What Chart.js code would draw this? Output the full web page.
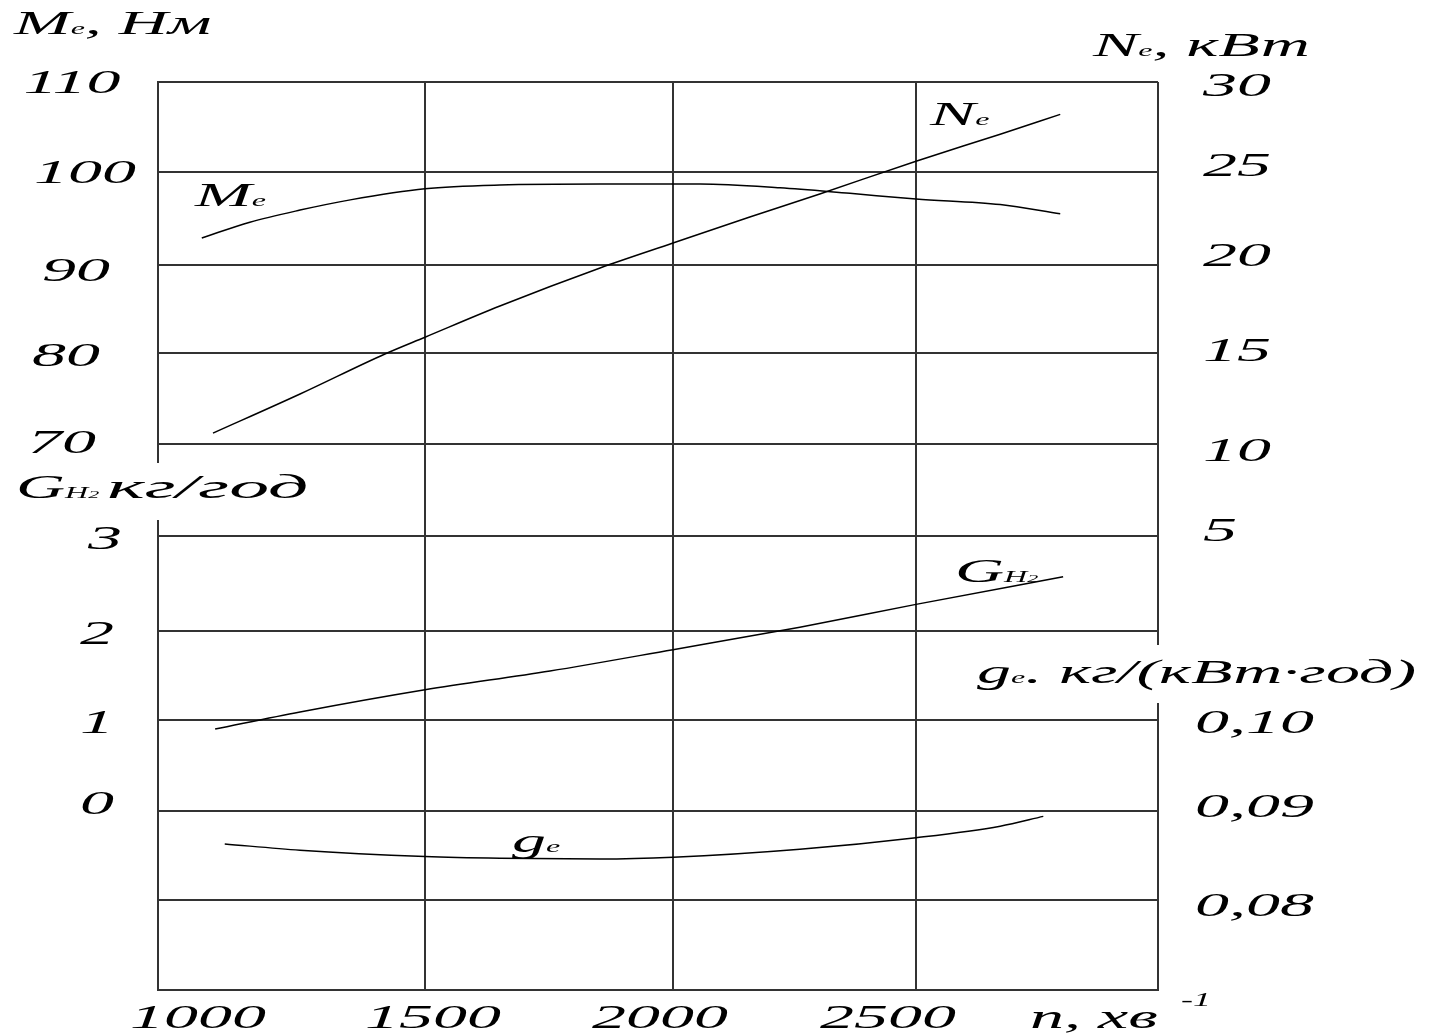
<!DOCTYPE html>
<html><head><meta charset="utf-8">
<script src="https://cdn.jsdelivr.net/npm/chart.js@4"></script>
<style>html,body{margin:0;padding:0;background:#fff;}#wrap{width:1429px;height:1034px;position:relative;}</style>
</head><body><div id="wrap"><canvas id="c"></canvas></div>
<script>
// ---- data ----
const rpmTicks = [1000, 1500, 2000, 2500];
const meTicks = [70, 80, 90, 100, 110];
const neTicks = [5, 10, 15, 20, 25, 30];
const gh2Ticks = [0, 1, 2, 3];
const geTicks = [0.08, 0.09, 0.10];

const meRpm = [1082, 1172, 1266, 1360, 1500, 1651, 1853, 2056, 2220, 2364, 2500, 2674, 2798];
const meVal = [92.9, 94.6, 95.9, 97.0, 98.2, 98.6, 98.7, 98.7, 98.3, 97.7, 97.1, 96.5, 95.5];
const neRpm = [1103, 1266, 1425, 1500, 1651, 1853, 2000, 2158, 2302, 2500, 2674, 2798];
const neVal = [10.6, 12.75, 14.95, 15.9, 17.67, 19.83, 21.18, 22.58, 23.82, 25.6, 27.1, 28.2];
const gh2Rpm = [1107, 1266, 1500, 1752, 2000, 2261, 2500, 2804];
const gh2Val = [0.90, 1.09, 1.34, 1.55, 1.79, 2.04, 2.28, 2.57];
const geRpm = [1125, 1266, 1500, 1651, 1853, 2000, 2261, 2500, 2674, 2763];
const geVal = [0.0863, 0.0856, 0.0849, 0.0847, 0.0846, 0.0848, 0.0857, 0.0870, 0.0883, 0.0894];

// ---- hand-drawn grid: a linear scale whose equal value steps have slightly unequal lengths ----
class PiecewiseScale extends Chart.LinearScale {
  _frac(v) {
    const b = this.options.breaks;
    if (!b) return (v - this.min) / (this.max - this.min);
    const n = b.length - 1;
    const t = (v - this.min) / (this.max - this.min) * n;
    const i = Math.min(Math.max(Math.floor(t), 0), n - 1);
    return b[i] + (b[i + 1] - b[i]) * (t - i);
  }
  getPixelForValue(v) {
    const f = this._frac(v);
    return this.isHorizontal() ? this.left + f * this.width : this.bottom - f * this.height;
  }
  getValueForPixel(p) {
    const f = this.isHorizontal() ? (p - this.left) / this.width : (this.bottom - p) / this.height;
    const b = this.options.breaks || [0, 1];
    const n = b.length - 1;
    let i = 0;
    while (i < n - 1 && f > b[i + 1]) i++;
    const t = i + (f - b[i]) / (b[i + 1] - b[i]);
    return this.min + t / n * (this.max - this.min);
  }
}
PiecewiseScale.id = 'piecewise';
PiecewiseScale.defaults = Chart.LinearScale.defaults;
Chart.register(PiecewiseScale);

const xBreaks = [0, 0.267, 0.515, 0.758, 1];
const yBreaks = [0, 0.0991, 0.1971, 0.2974, 0.3954, 0.5, 0.6013, 0.7015, 0.7985, 0.9009, 1];

// ---- helpers ----
const pts = (xs, ys) => xs.map((x, i) => ({x: x, y: ys[i]}));
const FONT = '"Liberation Serif", "Times New Roman", serif';
function rich(ctx, x, y, segs, align) {
  let w = 0;
  const sxOf = s => s[3] || 2.0;
  segs.forEach(s => { ctx.font = 'italic ' + s[1] + 'px ' + FONT; w += ctx.measureText(s[0]).width * sxOf(s); });
  let cx = align === 'center' ? x - w / 2 : (align === 'right' ? x - w : x);
  segs.forEach(s => {
    ctx.font = 'italic ' + s[1] + 'px ' + FONT;
    ctx.save();
    ctx.translate(cx, y + (s[2] || 0));
    ctx.scale(sxOf(s), 1);
    ctx.textAlign = 'left';
    ctx.textBaseline = 'alphabetic';
    ctx.fillStyle = '#000';
    ctx.fillText(s[0], 0, 0);
    ctx.restore();
    cx += ctx.measureText(s[0]).width * sxOf(s);
  });
}
const fmtComma = v => v.toFixed(2).replace('.', ',');

const textPlugin = {
  id: 'texts',
  afterDraw(chart) {
    const ctx = chart.ctx;
    const s = chart.scales;
    ctx.save();
    // breaks in the frame where the axis titles cross it
    ctx.fillStyle = '#fff';
    ctx.fillRect(150, 463, 18, 57);
    ctx.fillRect(1150, 645, 18, 58);
    const big = 34, sub = 16;
    // left ticks
    const meDx = [-10, -6, 4, 13, 0], meDy = [-2, 2, 5, 0, 0];
    meTicks.forEach((v, i) => rich(ctx, 72 + meDx[i], s.yMe.getPixelForValue(v) + 11 + meDy[i], [[String(v), big]], 'center'));
    const gDx = [0, 0, 0, 8], gDy = [-8, 2, 2, 2];
    gh2Ticks.forEach((v, i) => rich(ctx, 97 + gDx[i], s.yG.getPixelForValue(v) + 11 + gDy[i], [[String(v), big]], 'center'));
    // right ticks
    const nDy = [-6, 6, -3, -10, -7, 3];
    neTicks.forEach((v, i) => rich(ctx, 1203, s.yNe.getPixelForValue(v) + 11 + nDy[i], [[String(v), big]], 'left'));
    const eDy = [5, -5, 2];
    geTicks.forEach((v, i) => rich(ctx, 1195, s.yGe.getPixelForValue(v) + 11 + eDy[i], [[fmtComma(v), big]], 'left'));
    // bottom ticks
    const xDx = [40, 8, -13, -28];
    rpmTicks.forEach((v, i) => rich(ctx, s.x.getPixelForValue(v) + xDx[i], 1028, [[String(v), big]], 'center'));
    // axis titles
    rich(ctx, 14, 34, [['M', big], ['е', sub], [', Нм', big]], 'left');
    rich(ctx, 1093, 56, [['N', big], ['е', sub], [', кВт', big]], 'left');
    rich(ctx, 16, 498, [['G', big], ['H', 16], ['2', 11], [' ', 16], ['кг/год', big, 0, 2.35]], 'left');
    rich(ctx, 977, 683, [['g', big], ['е', sub], ['. кг/(кВт·год)', big]], 'left');
    rich(ctx, 1030, 1028, [['n, хв', big]], 'left');
    rich(ctx, 1181, 1006, [['-1', 18]], 'left');
    // curve labels
    rich(ctx, 195, 206, [['M', big], ['е', sub]], 'left');
    rich(ctx, 930, 125, [['N', big], ['е', sub]], 'left');
    rich(ctx, 955, 582, [['G', big], ['H', 16], ['2', 11]], 'left');
    rich(ctx, 512, 852, [['g', big], ['е', sub]], 'left');
    ctx.restore();
  }
};

const gridStyle = {color: '#333', lineWidth: 2, drawTicks: false};
const curve = (data, axis) => ({
  data: data, yAxisID: axis, borderColor: '#000', borderWidth: 1.5,
  pointRadius: 0, fill: false, tension: 0.4, cubicInterpolationMode: 'monotone'
});

new Chart(document.getElementById('c'), {
  type: 'line',
  data: {
    datasets: [
      curve(pts(meRpm, meVal), 'yMe'),
      curve(pts(neRpm, neVal), 'yNe'),
      curve(pts(gh2Rpm, gh2Val), 'yG'),
      curve(pts(geRpm, geVal), 'yGe')
    ]
  },
  options: {
    responsive: true,
    maintainAspectRatio: false,
    animation: false,
    layout: {padding: {left: 158, right: 271, top: 82, bottom: 44}},
    plugins: {legend: {display: false}, tooltip: {enabled: false}},
    scales: {
      x: {type: 'piecewise', breaks: xBreaks, min: 1000, max: 3000, ticks: {stepSize: 500, display: false},
          grid: gridStyle, border: {display: true, color: '#333', width: 2}},
      yGrid: {type: 'piecewise', breaks: yBreaks, position: 'left', min: 0, max: 10, ticks: {stepSize: 1, display: false},
          grid: gridStyle, border: {display: true, color: '#333', width: 2}},
      yMe: {type: 'piecewise', breaks: yBreaks, display: false, min: 10, max: 110},
      yNe: {type: 'piecewise', breaks: yBreaks, display: false, min: -20, max: 30},
      yG: {type: 'piecewise', breaks: yBreaks, display: false, min: -2, max: 8},
      yGe: {type: 'piecewise', breaks: yBreaks, display: false, min: 0.07, max: 0.17}
    }
  },
  plugins: [textPlugin]
});
</script></body></html>
